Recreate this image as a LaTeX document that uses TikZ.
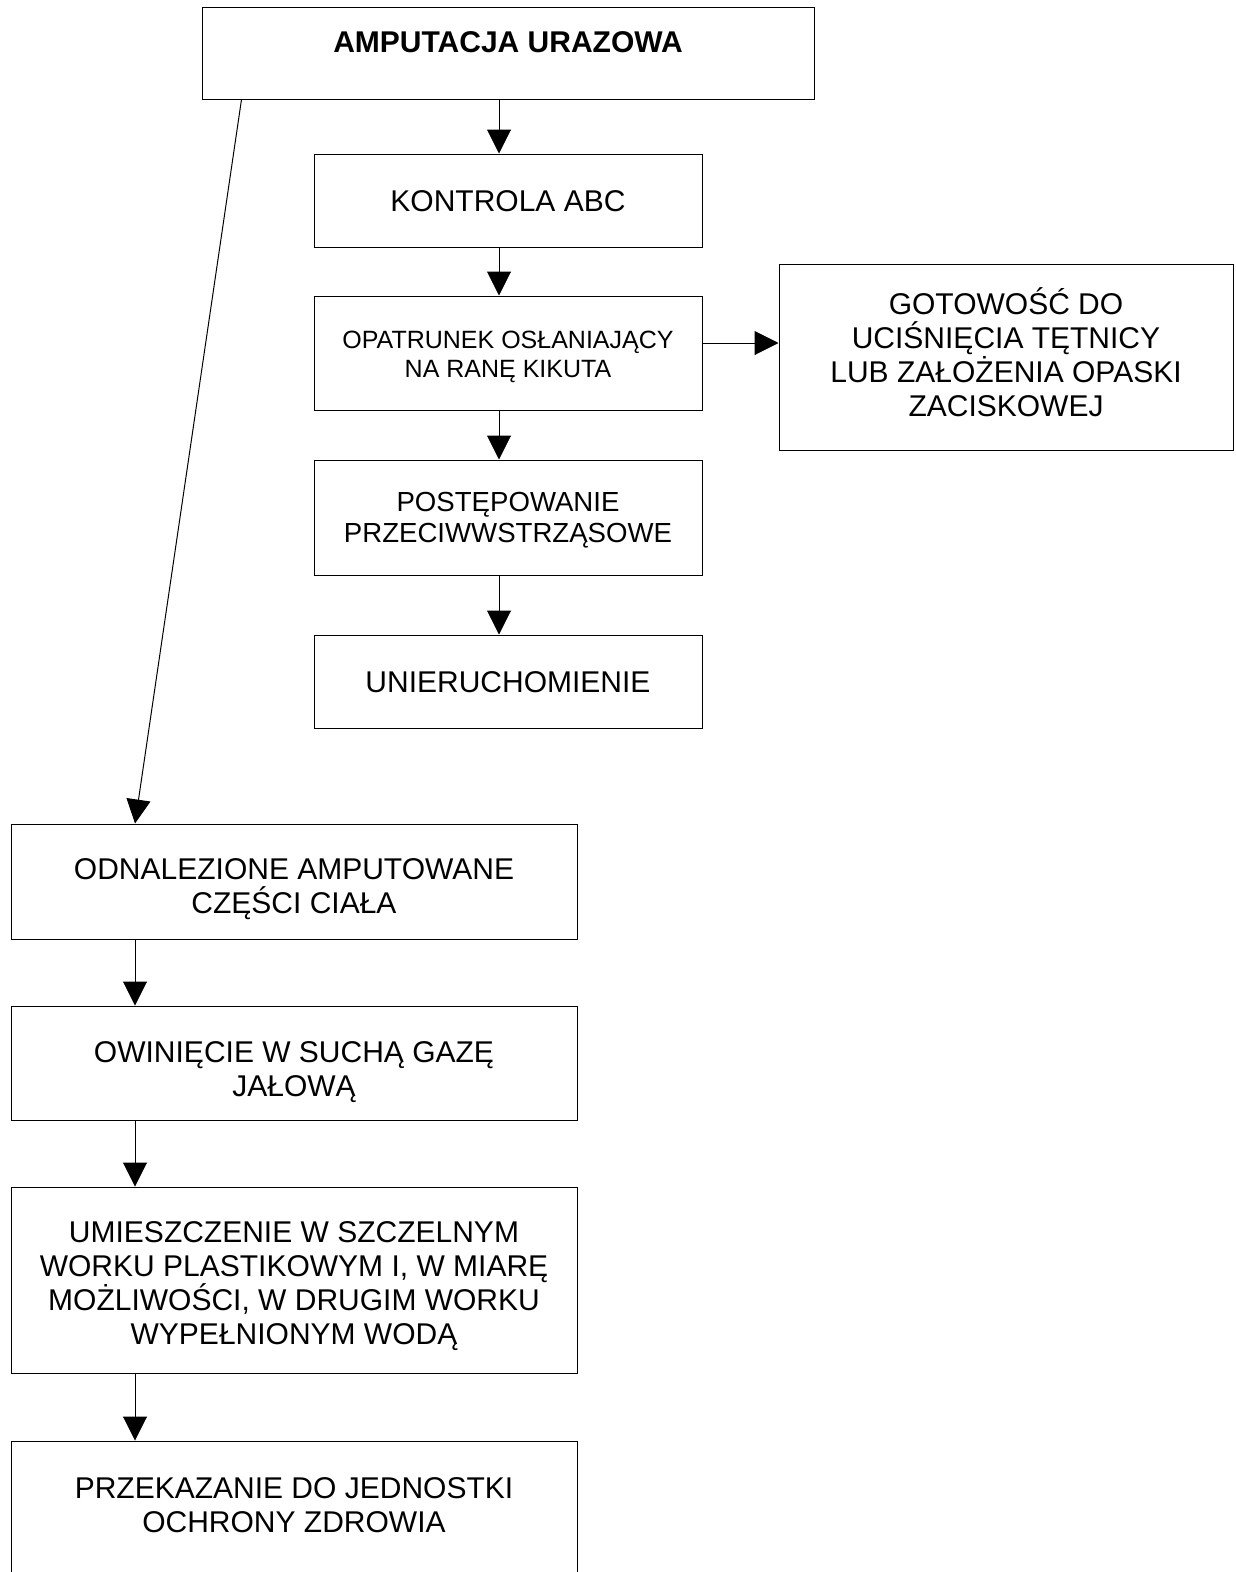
\documentclass[tikz,border=0pt]{standalone}
\usepackage{fontspec}
\setmainfont{Liberation Sans}
\usetikzlibrary{arrows.meta}
\begin{document}
\begin{tikzpicture}[x=1pt,y=-1pt,
  box/.style={draw=black,line width=1pt,rectangle,inner sep=0pt},
  txt/.style={align=center,inner sep=0pt,font=\fontsize{30}{34}\selectfont},
  smalltxt/.style={align=center,inner sep=0pt,font=\fontsize{25}{29}\selectfont},
  midtxt/.style={align=center,inner sep=0pt,font=\fontsize{27.6}{31}\selectfont},
  arr/.style={line width=1pt,-{Triangle[length=24pt,width=24pt]}}]
\useasboundingbox (0,0) rectangle (1235,1572);
\clip (0,0) rectangle (1235,1572);
\fill[white] (0,0) rectangle (1235,1572);
% boxes
\node[box,minimum width=612pt,minimum height=92pt] (A) at (508,53) {};
\node[box,minimum width=388pt,minimum height=93pt] (B) at (508,200.5) {};
\node[box,minimum width=388pt,minimum height=114pt] (C) at (508,353) {};
\node[box,minimum width=454pt,minimum height=186pt] (G) at (1006,357) {};
\node[box,minimum width=388pt,minimum height=115pt] (D) at (508,517.5) {};
\node[box,minimum width=388pt,minimum height=93pt] (E) at (508,681.5) {};
\node[box,minimum width=566pt,minimum height=115pt] (F) at (294,881.5) {};
\node[box,minimum width=566pt,minimum height=114pt] (H) at (294,1063) {};
\node[box,minimum width=566pt,minimum height=186pt] (I) at (294,1280) {};
\node[box,minimum width=566pt,minimum height=160pt] (J) at (294,1521) {};
% texts
\node[txt,font=\fontsize{30}{34}\selectfont\bfseries] (tA) at (508,42) {AMPUTACJA URAZOWA};
\node[txt] (tB) at (508,201) {KONTROLA ABC};
\node[smalltxt] (tC) at (508,357) {OPATRUNEK OSŁANIAJĄCY\\NA RANĘ KIKUTA};
\node[txt] (tG) at (1006,352.5) {GOTOWOŚĆ DO\\UCIŚNIĘCIA TĘTNICY\\LUB ZAŁOŻENIA OPASKI\\ZACISKOWEJ};
\node[midtxt] (tD) at (508,520) {POSTĘPOWANIE\\PRZECIWWSTRZĄSOWE};
\node[txt] (tE) at (508,682) {UNIERUCHOMIENIE};
\node[txt] (tF) at (294,889) {ODNALEZIONE AMPUTOWANE\\CZĘŚCI CIAŁA};
\node[txt] (tH) at (294,1072) {OWINIĘCIE W SUCHĄ GAZĘ\\JAŁOWĄ};
\node[txt] (tI) at (294,1286.5) {UMIESZCZENIE W SZCZELNYM\\WORKU PLASTIKOWYM I, W MIARĘ\\MOŻLIWOŚCI, W DRUGIM WORKU\\WYPEŁNIONYM WODĄ};
\node[txt] (tJ) at (294,1505.5) {PRZEKAZANIE DO JEDNOSTKI\\OCHRONY ZDROWIA};
% connectors
\draw[arr] ([xshift=-9pt]A.south) -- ([xshift=-9pt]B.north);
\draw[arr] ([xshift=-9pt]B.south) -- ([xshift=-9pt]C.north);
\draw[arr] ([xshift=-9pt]C.south) -- ([xshift=-9pt]D.north);
\draw[arr] ([xshift=-9pt]D.south) -- ([xshift=-9pt]E.north);
\draw[arr] ([yshift=10pt]C.east) -- ([yshift=10pt]C.east -| G.west);
\draw[arr] ([xshift=-266.5pt]A.south) -- ([xshift=-159pt]F.north);
\draw[arr] ([xshift=-159pt]F.south) -- ([xshift=-159pt]H.north);
\draw[arr] ([xshift=-159pt]H.south) -- ([xshift=-159pt]I.north);
\draw[arr] ([xshift=-159pt]I.south) -- ([xshift=-159pt]J.north);
\end{tikzpicture}
\end{document}
